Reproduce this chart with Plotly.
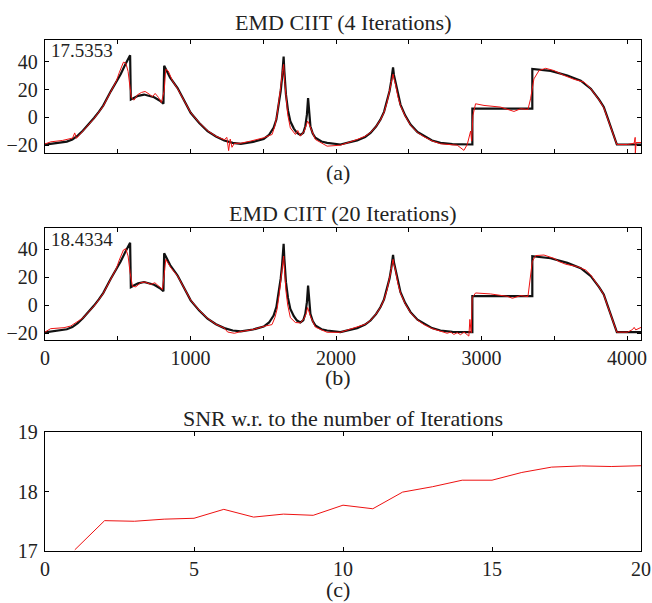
import plotly.graph_objects as go

# ---------------- data ----------------
# clean signal (black), shared by panels (a) and (b)
sig_x = [0, 100, 150, 188, 225, 260, 300, 337, 370, 400, 452, 490, 520, 550, 585,
         590, 640, 681, 750, 790, 814,
         819, 860, 911, 960, 1001, 1060, 1117, 1175, 1232, 1290, 1346, 1430, 1503, 1540, 1571,
         1590, 1606, 1620, 1629, 1635, 1640, 1645, 1650, 1656, 1670, 1686, 1710, 1732, 1755,
         1775, 1789, 1800, 1808, 1815, 1824, 1840, 1858, 1900, 1939, 2030, 2145, 2200, 2237,
         2275, 2305, 2330, 2351, 2368, 2379, 2386, 2392, 2398, 2408, 2425, 2443, 2475, 2512,
         2560, 2604, 2660, 2718, 2800, 2937,
         2937, 3349,
         3349, 3475, 3590, 3682, 3751, 3808, 3840, 3866, 3885, 3900, 3930, 4096]
sig_y = [-19.5, -18.0, -17.3, -15.8, -13.0, -9.5, -5.0, -0.4, 4.0, 8.5, 18.7, 25.5, 31.0, 37.5, 44.5,
         12.8, 15.5, 16.4, 14.5, 12.0, 9.8,
         37.0, 28.5, 21.1, 11.5, 3.3, -4.0, -9.8, -13.7, -16.5, -18.2, -18.9, -17.5, -15.4, -12.5, -7.5,
         -1.5, 9.2, 19.0, 28.2, 35.0, 43.7, 33.0, 24.0, 16.3, 5.0, -2.8, -8.0, -11.1, -12.5,
         -11.0, -6.3, 2.0, 13.9, 2.0, -6.3, -11.5, -14.6, -17.3, -18.2, -19.4, -16.5, -14.0, -11.1,
         -6.5, -1.6, 4.0, 11.5, 19.0, 25.8, 30.5, 35.8, 30.5, 25.8, 16.0, 9.2, 1.5, -5.1,
         -10.5, -13.4, -16.5, -18.2, -19.2, -19.4,
         6.3, 6.3,
         34.8, 33.4, 30.1, 26.3, 20.6, 12.8, 7.5, -0.2, -6.0, -10.9, -19.4, -19.4]

# denoised signal, 4 iterations (red, panel a)
den4_x = [0, 40, 120, 190, 204, 216, 260, 300, 337, 370, 400, 452, 490, 510, 539, 555, 571, 585,
          594, 612, 635, 663, 688, 716, 739, 757, 780, 800, 819, 830, 847, 876, 911, 960, 1001,
          1060, 1117, 1175, 1232, 1250, 1262, 1273, 1285, 1301, 1346, 1411, 1503, 1561, 1580, 1595,
          1610, 1622, 1632, 1640, 1648, 1656, 1668, 1686, 1721, 1737, 1755, 1782, 1795, 1805, 1812,
          1824, 1858, 1939, 2030, 2145, 2200, 2237, 2275, 2305, 2330, 2351, 2368, 2379, 2386, 2392,
          2398, 2408, 2425, 2443, 2475, 2512, 2560, 2604, 2660, 2718, 2833, 2879, 2902, 2925, 2932,
          2941, 2959, 3017, 3131, 3223, 3269, 3319, 3337, 3360, 3395, 3441, 3498, 3567, 3636, 3705,
          3751, 3808, 3840, 3866, 3885, 3900, 3930, 4003, 4049, 4056, 4057, 4062, 4096]
den4_y = [-19.0, -17.5, -16.5, -14.8, -11.1, -15.0, -9.8, -5.3, -0.8, 3.8, 8.0, 18.5, 26.0, 32.0,
          39.6, 39.0, 33.0, 21.0, 14.0, 12.4, 16.2, 17.9, 18.6, 16.7, 14.8, 17.2, 14.3, 10.7, 19.0,
          34.5, 33.3, 26.2, 20.6, 11.3, 3.5, -3.8, -9.5, -13.5, -16.0, -14.3, -23.8, -15.5, -21.4,
          -18.6, -18.5, -17.0, -14.6, -12.2, -6.0, 2.0, 12.0, 23.4, 33.0, 38.0, 25.0, 13.9, 2.0,
          -7.5, -12.2, -9.4, -13.4, -9.8, -6.0, -2.6, -4.0, -7.5, -15.8, -20.6, -19.9, -15.8, -13.5,
          -10.8, -6.5, -1.8, 3.5, 11.0, 18.0, 24.5, 28.0, 31.0, 28.0, 24.0, 15.0, 8.5, 1.0, -5.5,
          -10.8, -13.8, -16.8, -18.9, -19.9, -23.6, -19.4, -9.8, -17.0, 1.5, 9.8, 8.6, 7.4, 4.3,
          6.2, 5.7, 13.3, 27.6, 33.6, 35.2, 33.6, 30.1, 27.3, 25.3, 20.6, 12.5, 7.0, -0.5, -6.3,
          -11.0, -19.4, -19.4, -18.5, -14.3, -26.0, -18.0, -18.0]

# denoised signal, 20 iterations (red, panel b)
den20_x = [0, 39, 131, 177, 260, 300, 310, 337, 370, 400, 452, 490, 510, 539, 555, 571, 585, 601,
           624, 658, 688, 727, 755, 784, 807, 823, 830, 865, 911, 960, 1001, 1060, 1117, 1175, 1232,
           1255, 1301, 1346, 1430, 1514, 1560, 1580, 1595, 1610, 1622, 1632, 1640, 1648, 1656, 1668,
           1686, 1721, 1755, 1782, 1795, 1805, 1812, 1824, 1858, 1939, 2030, 2145, 2200, 2237, 2275,
           2305, 2330, 2351, 2368, 2379, 2386, 2392, 2398, 2408, 2425, 2443, 2475, 2512, 2560, 2604,
           2660, 2718, 2764, 2788, 2810, 2833, 2856, 2879, 2902, 2913, 2920, 2929, 2936, 2959, 3062,
           3177, 3212, 3269, 3319, 3333, 3349, 3372, 3429, 3498, 3533, 3579, 3659, 3716, 3751, 3808,
           3840, 3866, 3885, 3900, 3930, 4003, 4037, 4049, 4060, 4096]
den20_y = [-19.3, -16.9, -16.2, -15.0, -9.3, -5.0, -4.2, -0.8, 3.8, 8.2, 18.5, 26.0, 32.0, 39.3,
           40.2, 35.0, 23.0, 13.4, 13.0, 15.9, 16.4, 14.7, 15.9, 13.5, 11.1, 25.4, 32.6, 26.6, 20.8,
           11.4, 3.5, -3.8, -9.5, -13.8, -16.5, -19.3, -20.2, -19.0, -17.5, -15.0, -14.0, -9.0,
           -3.0, 8.0, 20.8, 30.0, 35.0, 22.0, 10.0, 0.0, -9.0, -12.5, -12.8, -9.5, -6.0, -1.8, -4.5,
           -8.0, -15.8, -19.5, -19.5, -16.0, -13.8, -11.0, -6.5, -1.8, 3.8, 11.0, 18.5, 25.0, 29.0,
           32.6, 29.0, 25.0, 15.5, 8.5, 1.0, -5.5, -10.8, -14.0, -16.8, -18.5, -20.2, -19.3, -21.0,
           -19.8, -21.2, -19.3, -21.7, -22.2, -10.3, -19.8, 5.2, 8.6, 7.9, 6.2, 4.8, 6.7, 6.0, 16.7,
           31.0, 35.3, 35.7, 33.3, 31.0, 29.1, 27.4, 25.0, 21.4, 12.8, 7.3, -0.5, -6.3, -11.0, -19.4,
           -19.4, -17.6, -16.0, -17.8, -16.0]

# SNR vs number of iterations (panel c)
iterations = list(range(1, 21))
snr = [17.02, 17.51, 17.50, 17.5353, 17.55, 17.70, 17.57, 17.62, 17.60, 17.77, 17.71, 17.99,
       18.08, 18.19, 18.19, 18.32, 18.41, 18.43, 18.42, 18.4334]

sig_ticks = [0, 500, 1000, 1500, 2000, 2500, 3000, 3500, 4000]
sig_ticktext = ["0", "", "1000", "", "2000", "", "3000", "", "4000"]
amp_ticks = [-20, 0, 20, 40]
it_ticks = [0, 5, 10, 15, 20]
snr_ticks = [17, 18, 19]

titles = ["EMD CIIT (4 Iterations)", "EMD CIIT (20 Iterations)", "SNR w.r. to the number of Iterations"]
labels = ["(a)", "(b)", "(c)"]
snr_labels = ["17.5353", "18.4334"]

# ---------------- figure ----------------
W, H = 652, 603
BLACK = "#111111"
RED = "#ee1111"
FONT = "Liberation Serif, Times New Roman, serif"

fig = go.Figure()
fig.add_trace(go.Scatter(x=sig_x, y=sig_y, mode="lines", line=dict(color=BLACK, width=2.2),
                         xaxis="x", yaxis="y", showlegend=False))
fig.add_trace(go.Scatter(x=den4_x, y=den4_y, mode="lines", line=dict(color=RED, width=1),
                         xaxis="x", yaxis="y", showlegend=False))
fig.add_trace(go.Scatter(x=sig_x, y=sig_y, mode="lines", line=dict(color=BLACK, width=2.2),
                         xaxis="x2", yaxis="y2", showlegend=False))
fig.add_trace(go.Scatter(x=den20_x, y=den20_y, mode="lines", line=dict(color=RED, width=1),
                         xaxis="x2", yaxis="y2", showlegend=False))
fig.add_trace(go.Scatter(x=iterations, y=snr, mode="lines", line=dict(color=RED, width=1),
                         xaxis="x3", yaxis="y3", showlegend=False))


def px_x(p):
    return p / W


def px_y(p):
    return 1 - p / H


xdom = [px_x(45), px_x(641)]
ydoms = [[px_y(153), px_y(40)], [px_y(340), px_y(228)], [px_y(551), px_y(432)]]

common = dict(showgrid=False, zeroline=False, showline=True, linecolor="#000", linewidth=1.3,
              mirror="ticks", ticks="inside", ticklen=4, tickwidth=1, tickcolor="#000",
              automargin=False,
              tickfont=dict(family=FONT, size=20, color="#222"))

fig.update_layout(
    width=W, height=H, margin=dict(l=0, r=0, t=0, b=0, autoexpand=False),
    paper_bgcolor="white", plot_bgcolor="white", showlegend=False,
    xaxis=dict(domain=xdom, range=[0, 4096], tickvals=sig_ticks, showticklabels=False,
               anchor="y", **common),
    yaxis=dict(domain=ydoms[0], range=[-25.5, 55.5], tickvals=amp_ticks, anchor="x",
               ticklabelstandoff=2, **common),
    xaxis2=dict(domain=xdom, range=[0, 4096], tickvals=sig_ticks, ticktext=sig_ticktext,
                anchor="y2", **common),
    yaxis2=dict(domain=ydoms[1], range=[-25, 55], tickvals=amp_ticks, anchor="x2",
                ticklabelstandoff=2, **common),
    xaxis3=dict(domain=xdom, range=[0, 20], tickvals=it_ticks, anchor="y3", **common),
    yaxis3=dict(domain=ydoms[2], range=[17, 19], tickvals=snr_ticks, anchor="x3",
                ticklabelstandoff=2, **common),
)

ann = []
title_y = [22, 213, 418]
label_y = [172, 377, 589]
for t, yy in zip(titles, title_y):
    ann.append(dict(text=t, x=px_x(343), y=px_y(yy), xref="paper", yref="paper",
                    xanchor="center", yanchor="middle", showarrow=False,
                    font=dict(family=FONT, size=22, color="#222")))
for t, yy in zip(labels, label_y):
    ann.append(dict(text=t, x=px_x(338), y=px_y(yy), xref="paper", yref="paper",
                    xanchor="center", yanchor="middle", showarrow=False,
                    font=dict(family=FONT, size=22, color="#222")))
for t, yy in zip(snr_labels, [51, 239]):
    ann.append(dict(text=t, x=px_x(49), y=px_y(yy), xref="paper", yref="paper",
                    xanchor="left", yanchor="middle", showarrow=False,
                    font=dict(family=FONT, size=19, color="#222")))
fig.update_layout(annotations=ann)

fig.write_html("out.html")
